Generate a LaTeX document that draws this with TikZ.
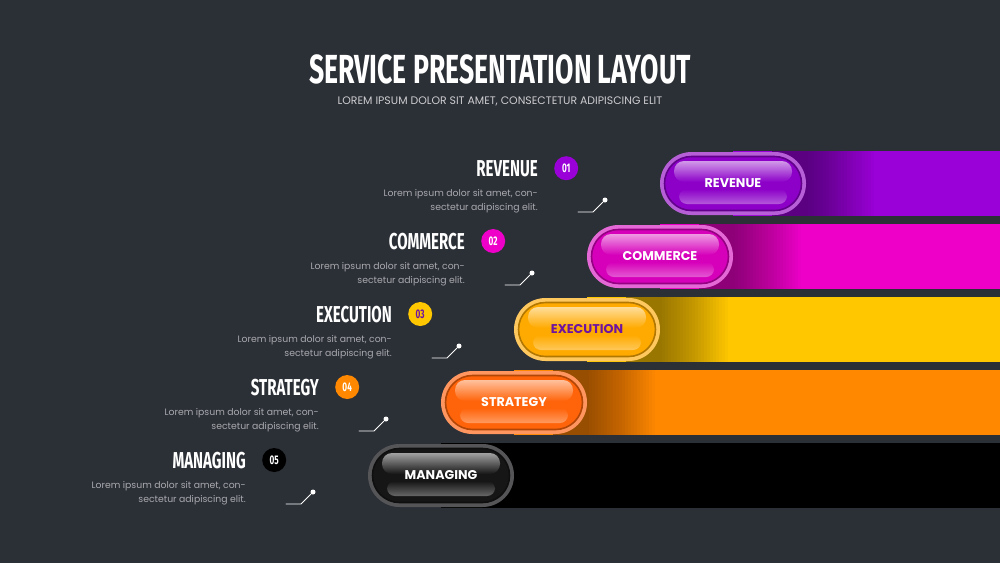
\documentclass[tikz,border=0pt]{standalone}
\usepackage{fontspec}
\setmainfont{Poppins}
\newfontfamily\headfont[FakeStretch=0.655]{Fira Sans}
\usetikzlibrary{positioning}
\definecolor{bg}{RGB}{43,47,54}
\definecolor{fg}{RGB}{255,255,255}
\definecolor{mu}{RGB}{170,170,175}
\definecolor{sub}{RGB}{205,205,208}
\definecolor{revbar}{RGB}{154,0,216}
\definecolor{revpill}{RGB}{140,0,200}
\definecolor{revrim}{RGB}{182,95,215}
\definecolor{combar}{RGB}{238,0,200}
\definecolor{compill}{RGB}{214,0,186}
\definecolor{comrim}{RGB}{228,105,215}
\definecolor{exebar}{RGB}{255,199,0}
\definecolor{exepill}{RGB}{255,170,0}
\definecolor{exerim}{RGB}{255,200,95}
\definecolor{exetxt}{RGB}{110,20,160}
\definecolor{strbar}{RGB}{255,136,0}
\definecolor{strpill}{RGB}{255,100,10}
\definecolor{strrim}{RGB}{255,150,95}
\definecolor{manbar}{RGB}{0,0,0}
\definecolor{manpill}{RGB}{22,22,22}
\definecolor{manrim}{RGB}{85,85,88}
\tikzset{
  every picture/.style={x=1pt, y=-1pt, line cap=round, line join=round},
  % Titel
  maintitle/.style={fg, inner sep=0pt, font=\headfont\bfseries\fontsize{40.6}{44}\selectfont},
  subtitle/.style={sub, inner sep=0pt, font=\fontsize{10.9}{12}\selectfont},
  % Pillen
  pillrim/.style={rectangle, rounded corners=31.5pt, minimum width=146pt, minimum height=63pt, inner sep=0pt},
  pillbody/.style={rectangle, rounded corners=27pt, minimum width=137pt, minimum height=54pt, inner sep=0pt, line width=1.6pt},
  shine/.style={rectangle, rounded corners=10pt, minimum width=118pt, minimum height=21pt, inner sep=0pt},
  glow/.style={rectangle, rounded corners=8pt, minimum width=108pt, minimum height=15pt, inner sep=0pt},
  barshade/.style={black, fill opacity=0.018},
  pilltext/.style={inner sep=0pt, font=\bfseries\fontsize{12.7}{14}\selectfont},
  % linke Seite
  rowtitle/.style={fg, inner sep=0pt, font=\headfont\bfseries\fontsize{23}{26}\selectfont},
  numdot/.style={circle, minimum size=24pt, inner sep=0pt, font=\headfont\bfseries\fontsize{12.5}{13}\selectfont},
  desc/.style={mu, inner sep=0pt, align=right, font=\fontsize{9.3}{14.5}\selectfont},
  tickdot/.style={circle, fill=fg, minimum size=5pt, inner sep=0pt},
  tick/.style={draw=fg!85, line width=0.8pt},
}
% #1 Zeile, #2 Farbpraefix, #3 Name, #4 Textfarbe, #5 Nummer
\newcommand{\svcrow}[5]{%
  \begin{scope}[shift={(-73*#1,73*#1)}]
    \fill[#2bar] (733,151) rectangle ({1000+73*#1},216);
    % Schatten rechts der Pille
    \foreach \w in {36,39,...,102}
      \fill[barshade] (772,151) rectangle ({772+\w},216);
    \node[pillrim, fill=#2rim] (#2-pill) at (733,183.5) {};
    \node[pillbody, fill=#2pill, draw=#2pill!70!black] (#2-body) at (#2-pill) {};
    % Glanz oben und unten
    \node[shine, top color=white!60!#2pill, bottom color=#2pill] (#2-shine) at ([yshift=12pt]#2-pill.center) {};
    \node[glow, top color=#2pill, bottom color=white!35!#2pill] (#2-glow) at ([yshift=-13pt]#2-pill.center) {};
    \node[pilltext, text=#4] (#2-label) at (#2-pill) {#3};
    \node[rowtitle, anchor=base east] (#2-title) at (538,176) {#3};
    \node[numdot, fill=#2bar, text=#4, right=16pt of #2-title] (#2-num) {#5};
    \node[desc, anchor=north east] (#2-desc) at (538,189) {Lorem ipsum dolor sit amet, con-\\sectetur adipiscing elit.};
    \coordinate (#2-tick) at (578,212);
    \node[tickdot] (#2-dot) at (605,200) {};
    \draw[tick] (#2-tick) -- ++(15,0) -- (#2-dot);
  \end{scope}}
\begin{document}
\begin{tikzpicture}
  \fill[bg] (0,0) rectangle (1000,563);
  \useasboundingbox (0,0) rectangle (1000,563);
  \node[maintitle, anchor=base] (title) at (500,83) {SERVICE PRESENTATION LAYOUT};
  \node[subtitle, anchor=base] (sub) at (500,104) {LOREM IPSUM DOLOR SIT AMET, CONSECTETUR ADIPISCING ELIT};
  \svcrow{0}{rev}{REVENUE}{fg}{01}
  \svcrow{1}{com}{COMMERCE}{fg}{02}
  \svcrow{2}{exe}{EXECUTION}{exetxt}{03}
  \svcrow{3}{str}{STRATEGY}{fg}{04}
  \svcrow{4}{man}{MANAGING}{fg}{05}
\end{tikzpicture}
\end{document}
